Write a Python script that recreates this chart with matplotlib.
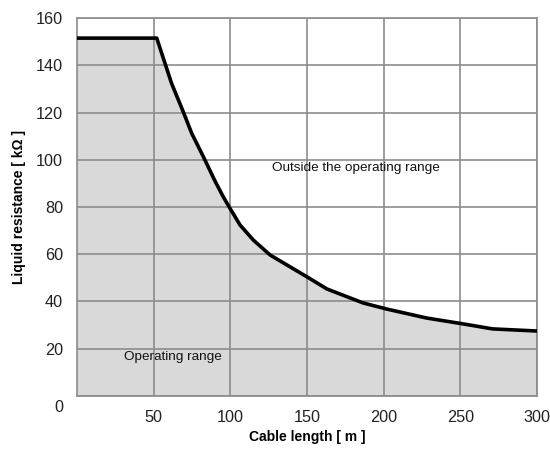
import numpy as np
import matplotlib
matplotlib.use("Agg")
import matplotlib.pyplot as plt
import matplotlib.transforms as mtransforms

plt.rcParams['font.family'] = ['Liberation Sans', 'DejaVu Sans']

# curve: cable length [m] vs liquid resistance [kOhm]
length = [0, 52, 57.4, 61.7, 69.3, 74.8, 82.4, 90, 95.4, 99.8, 106.3, 115, 125.9,
          136.8, 149.8, 163, 186.5, 202, 228, 252, 271, 300]
resistance = [151.5, 151.5, 140.8, 132.3, 120.3, 111.2, 101.3, 91, 84.3, 79.4, 72.4,
              66, 59.7, 55.5, 50.5, 45.3, 39.4, 36.8, 33, 30.5, 28.4, 27.5]

xticks = [50, 100, 150, 200, 250, 300]
yticks = [0, 20, 40, 60, 80, 100, 120, 140, 160]

fig = plt.figure(figsize=(5.5, 4.51), dpi=100)
ax = fig.add_axes([0.14, 0.122, 0.8364, 0.838])

ax.fill_between(length, 0, resistance, color='#d9d9d9', zorder=1)
ax.plot(length, resistance, color='black', lw=2.6, zorder=4,
        solid_joinstyle='round', solid_capstyle='butt')

ax.set_xlim(0, 300)
ax.set_ylim(0, 160)
ax.set_xticks(xticks)
ax.set_yticks(yticks)
ax.grid(True, color='#8c8c8c', lw=1.2, zorder=2)
ax.set_axisbelow(False)
for s in ax.spines.values():
    s.set_color('#8c8c8c')
    s.set_linewidth(1.2)
    s.set_zorder(3)
for ln in ax.get_xgridlines() + ax.get_ygridlines():
    ln.set_zorder(2)

ax.tick_params(length=0, labelsize=11.7, labelcolor='#222222')
ax.tick_params(axis='x', pad=10)
ax.tick_params(axis='y', pad=10)
# the "0" label sits a bit below the axis in the original
lbl0 = ax.get_yticklabels()[0]
lbl0.set_transform(lbl0.get_transform() + mtransforms.ScaledTranslation(0, -10 / 100, fig.dpi_scale_trans))

ax.set_xlabel('Cable length [ m ]', fontsize=10, fontweight='bold', labelpad=4)
ax.set_ylabel('Liquid resistance [ kΩ ]', fontsize=10, fontweight='bold', labelpad=7)

ax.text(182, 96.5, 'Outside the operating range', fontsize=9.7, ha='center', va='center',
        color='#111111', zorder=5)
ax.text(62.6, 16.5, 'Operating range', fontsize=9.7, ha='center', va='center',
        color='#111111', zorder=5)

fig.savefig('out.png', dpi=100)
